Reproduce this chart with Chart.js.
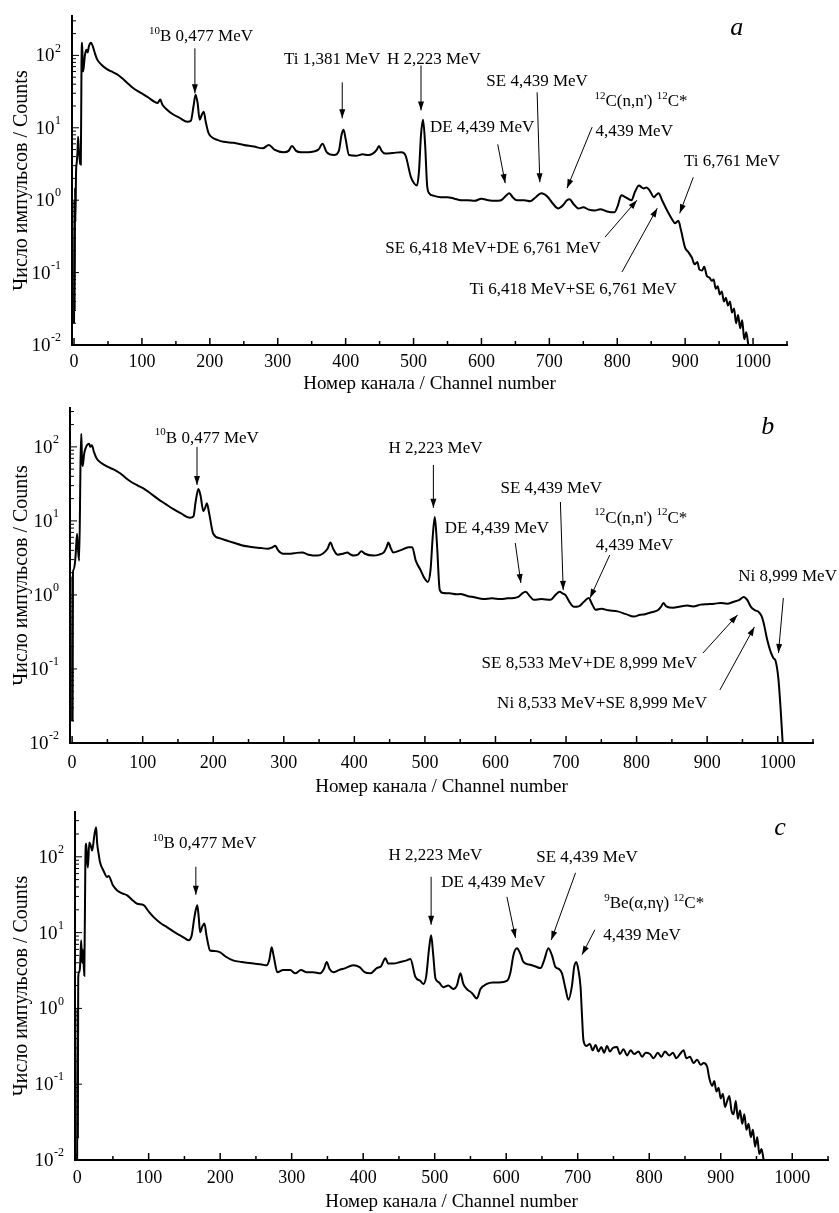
<!DOCTYPE html>
<html lang="ru">
<head>
<meta charset="UTF-8">
<title>Gamma spectra a, b, c</title>
<script src="https://cdn.jsdelivr.net/npm/chart.js"></script>
<style>
  body { margin: 0; background: #fff; }
  .panel { position: absolute; left: 0; width: 839px; }
</style>
</head>
<body>
<div class="panel" style="top:0"><canvas id="chartA" width="839" height="395"></canvas></div>
<div class="panel" style="top:395px"><canvas id="chartB" width="839" height="405"></canvas></div>
<div class="panel" style="top:800px"><canvas id="chartC" width="839" height="413"></canvas></div>

<script>
// tick values
const xTicks = [0, 100, 200, 300, 400, 500, 600, 700, 800, 900, 1000];
const yTicks = [0.01, 0.1, 1, 10, 100];

// spectrum a
const chA = [0,0.5,1,1.5,2,3,4,5,6,7, 8,9,10,11,12,13,14,16,18,20, 22,25,28,31,34,40,49,55,63,70,
  78,86,94,102,110,118,123,127,130,137, 145,155,167,172,176,179,182,185,188,191, 194,198,204,211,220,235,250,265,278,287,
  295,309,316,321,327,334,345,353,360,366, 372,383,390,394,397,400,405,415,425,433, 440,446,449,453,458,470,482,488,496,501,
  505,508,511,514,517,520,523,530,540,550, 560,570,580,590,600,610,620,629,636,641, 646,652,663,672,680,688,693,698,705,713,
  720,726,730,735,743,750,758,767,775,785, 796,801,806,812,821,826,832,836,839,843, 848,854,858,861,866,871,876,882,885,890,
  894,900,905,910,914,918,921,925,928,932, 936,939,942,945,948,951,954,957,960,963, 966,969,972,975,978,981,984,987,990,993];
const cntA = [0.02,1.0,0.03,1.5,0.5,2.5,3.3,4.5,7.5,5, 4,3.2,3.1,80,150,60,65,100,120,110, 135,150,130,105,88,75,64,60,55,49,
  42,36,32,29,26,23,22,24.5,21,17.8, 15.5,13.8,12.1,12.5,20,28.7,22,12.9,15,16.7, 12,8.5,7.3,6.8,6.4,6.2,5.8,5.5,5.2,5.8,
  5.0,4.6,4.8,5.6,4.8,4.6,4.6,4.7,5.0,6.0, 4.6,4.2,4.8,8,9.4,7,4.2,4.1,4.3,4.2, 4.4,5.0,5.6,4.8,4.4,4.5,4.6,4.2,2.1,1.7,
  1.6,2.5,8,12.9,6,1.6,1.25,1.15,1.1,1.1, 1.05,1.0,1.0,0.98,1.05,1.0,0.98,1.0,1.15,1.25, 1.1,1.0,1.0,0.97,1.1,1.25,1.2,1.1,0.9,0.77,
  0.85,1.0,1.03,0.9,0.77,0.8,0.74,0.72,0.75,0.7, 0.68,0.85,1.17,1.1,1.0,1.3,1.6,1.5,1.45,1.5, 1.35,1.1,1.2,1.25,1.0,0.8,0.65,0.52,0.48,0.52,
  0.38,0.22,0.19,0.16,0.13,0.14,0.11,0.107,0.12,0.09, 0.085,0.077,0.08,0.06,0.065,0.05,0.055,0.04,0.045,0.035, 0.04,0.028,0.032,0.02,0.026,0.017,0.022,0.012,0.015,0.01];

// spectrum b
const chB = [0,0.3,0.7,1.2,2,4,5,7,8.5,10, 12,13,14,15,17,19,21,24,26,28, 31,35,42,50,58,68,76,85,93,101,
  110,121,132,143,155,167,172,175,179,182, 186,189,191,194,200,210,220,228,240,250, 257,268,277,284,288,292,299,310,318,326,
  335,348,355,362,366,370,376,384,390,395, 399,405,410,415,427,435,442,446,448,452, 455,465,477,482,487,494,499,504,508,511,
  514,517,521,526,535,545,550,560,570,583, 595,607,617,626,633,638,643,648,654,665, 678,685,691,695,699,705,711,718,725,732,
  737,742,750,760,773,785,796,805,812,820, 830,835,838,842,852,862,872,880,891,900, 910,919,928,938,945,952,957,962,968,973,
  977,980,985,990,994,997,1001,1004,1007];
const cntB = [0.02,1.8,0.02,2.0,2.2,2.7,3.5,6.7,4,2.9, 70,150,69,55,80,95,105,110,100,105, 85,69,60,54,50,44,38,33,30,27.5,
  24,20,17,14.5,12.5,11,11.5,18,27,22, 13.5,15.5,17.3,13,6.7,5.8,5.4,5.1,4.7,4.5, 4.4,4.3,4.2,4.4,4.6,4.0,3.6,3.6,3.7,3.75,
  3.5,3.4,3.6,4.2,5.1,4.2,3.5,3.6,3.75,3.5, 3.4,3.5,3.9,3.6,3.4,3.5,3.8,4.5,5.1,4.2, 3.75,4.0,4.4,4.4,2.9,2.15,1.7,1.5,2.2,6,
  11.3,5,1.17,1.06,1.05,1.02,1.03,0.97,0.93,0.88, 0.9,0.88,0.9,0.91,0.95,1.05,1.1,0.98,0.86,0.88, 0.86,1.0,1.1,1.05,1.0,0.8,0.69,0.7,0.8,0.91,
  0.75,0.63,0.65,0.62,0.6,0.55,0.51,0.54,0.55,0.58, 0.62,0.7,0.78,0.7,0.67,0.7,0.72,0.7,0.74,0.75, 0.76,0.78,0.76,0.81,0.85,0.94,0.85,0.69,0.62,0.59,
  0.52,0.42,0.25,0.17,0.14,0.128,0.073,0.03,0.01];

// spectrum c
const chC = [0,0.5,1,1.5,2.5,4,5.6,7,8,10, 11.5,12.6,14,15,17,19,21,24,26.5,28, 30,32,37,42,44,50,56,63,70,77,
  84,93,100,107,116,126,135,144,150,156, 160,164,168,170,172,175,178,181,186,192, 200,208,218,230,247,258,265,269,272,275,
  280,288,298,305,313,321,330,340,345,349, 353,358,366,375,386,395,402,410,419,425, 431,435,442,452,461,466,473,480,484,488,
  492,495,498,501,506,512,519,526,531,536, 540,545,552,559,564,573,581,590,601,606, 610,615,620,624,632,640,648,653,659,664,
  669,674,678,683,687,692,695,698,701,704, 706,708,712,717,721,725,729,733,737,741, 745,749,755,759,764,769,774,779,785,790,
  795,801,806,812,817,822,828,833,838,843, 848,852,857,862,867,872,876,881,884,888, 891,894,897,900,903,906,909,912,915,918,
  921,924,927,930,933,936,939,942,945,948, 951,954,957,960];
const cntC = [0.01,1,0.02,2.5,3.0,3.5,7.9,4,6,2.7, 90,150,90,72,155,140,121,190,245,150, 110,85,65,54,56,42,36,33,31,27,
  24,23,19,16,13.5,11.7,10.3,9.2,8.5,7.9, 9,16,23,16,10.1,12,13.2,9,5.8,5.7, 5.5,4.8,4.3,4.1,3.9,3.8,3.7,4.5,6.4,4.8,
  3.0,3.2,3.2,2.9,3.2,3.0,3.0,2.9,3.3,4.1, 3.3,3.0,3.2,3.4,3.7,3.5,3.0,2.9,3.4,3.6, 4.6,3.9,3.9,4.1,4.3,4.5,2.6,2.3,2.1,2.6,
  6,9.2,5,2.5,2.2,1.9,2.0,1.8,2.0,2.9, 2.1,1.8,1.6,1.35,1.8,2.1,2.2,2.2,2.3,3, 5,6.2,5.2,4.1,3.8,3.6,3.4,4.3,6.2,5,
  3.5,3.3,2.9,1.8,1.3,2.0,3.5,4.1,3.2,1.9, 0.8,0.38,0.32,0.34,0.28,0.33,0.27,0.31,0.26,0.32, 0.27,0.3,0.31,0.25,0.29,0.24,0.28,0.25,0.27,0.23,
  0.26,0.25,0.22,0.26,0.23,0.27,0.24,0.26,0.22,0.25, 0.28,0.22,0.23,0.19,0.21,0.18,0.19,0.17,0.12,0.095, 0.11,0.08,0.09,0.065,0.075,0.05,0.06,0.07,0.045,0.04,
  0.06,0.035,0.045,0.03,0.04,0.025,0.03,0.02,0.025,0.015, 0.02,0.012,0.014,0.01];

// labels: text segments [text, isSuperscript], anchored in data units (channel, counts)
const notesA = [
  { seg: [['10', 1], ['B 0,477 MeV', 0]], x: 187, y: 190 },
  { seg: [['Ti 1,381 MeV', 0]], x: 380, y: 91 },
  { seg: [['H 2,223 MeV', 0]], x: 530, y: 91 },
  { seg: [['DE 4,439 MeV', 0]], x: 601, y: 10.5 },
  { seg: [['SE 4,439 MeV', 0]], x: 682, y: 45 },
  { seg: [['12', 1], ["C(n,n') ", 0], ['12', 1], ['C*', 0]], x: 835, y: 23.9 },
  { seg: [['4,439 MeV', 0]], x: 825, y: 9.2 },
  { seg: [['Ti 6,761 MeV', 0]], x: 969, y: 3.56 },
  { seg: [['SE 6,418 MeV+DE 6,761 MeV', 0]], x: 617, y: 0.225 },
  { seg: [['Ti 6,418 MeV+SE 6,761 MeV', 0]], x: 735, y: 0.061 }
];
const arrowsA = [[178,125,178,29.9],[395,42.4,395,13.5],[511,72.8,511,17.4],[624,5.9,635,1.72],[682,30.9,686,1.77],
  [763,10.2,726,1.46],[912,2.07,892,0.66],[782,0.309,829,1.0],[807,0.102,859,0.776]];

const notesB = [
  { seg: [['10', 1], ['B 0,477 MeV', 0]], x: 191, y: 136 },
  { seg: [['H 2,223 MeV', 0]], x: 515, y: 97 },
  { seg: [['DE 4,439 MeV', 0]], x: 602, y: 8.3 },
  { seg: [['SE 4,439 MeV', 0]], x: 679, y: 28.8 },
  { seg: [['12', 1], ["C(n,n') ", 0], ['12', 1], ['C*', 0]], x: 806, y: 11.3 },
  { seg: [['4,439 MeV', 0]], x: 797, y: 4.89 },
  { seg: [['Ni 8,999 MeV', 0]], x: 1014, y: 1.86 },
  { seg: [['SE 8,533 MeV+DE 8,999 MeV', 0]], x: 733, y: 0.124 },
  { seg: [['Ni 8,533 MeV+SE 8,999 MeV', 0]], x: 751, y: 0.0358 }
];
const arrowsB = [[177,100,177,30.6],[512,57,512,15],[628,5.04,636,1.45],[692,18,696,1.17],[762,3.47,734,0.91],
  [1008,0.91,1001,0.164],[894,0.164,943,0.537],[918,0.052,967,0.37]];

const notesC = [
  { seg: [['10', 1], ['B 0,477 MeV', 0]], x: 178, y: 153 },
  { seg: [['H 2,223 MeV', 0]], x: 501, y: 109 },
  { seg: [['DE 4,439 MeV', 0]], x: 582, y: 46.8 },
  { seg: [['SE 4,439 MeV', 0]], x: 713, y: 100 },
  { seg: [['9', 1], ['Be(α,nγ) ', 0], ['12', 1], ['C*', 0]], x: 807, y: 24.7 },
  { seg: [['4,439 MeV', 0]], x: 790, y: 9.6 }
];
const arrowsC = [[166,73.8,166,31.5],[495,54.5,495,12.7],[601,29.6,613,8.5],[697,61.5,663,8.0],[724,10.9,706,5.1]];

const FONT = '"Liberation Serif", "Times New Roman", serif';

function drawRich(ctx, segs, cx, cy, size) {
  const supSize = Math.round(size * 0.65);
  let w = 0;
  segs.forEach(([t, sup]) => {
    ctx.font = (sup ? supSize : size) + 'px ' + FONT;
    w += ctx.measureText(t).width;
  });
  let x = cx - w / 2;
  const base = cy + size * 0.33;
  ctx.textAlign = 'left';
  ctx.textBaseline = 'alphabetic';
  segs.forEach(([t, sup]) => {
    ctx.font = (sup ? supSize : size) + 'px ' + FONT;
    ctx.fillText(t, x, sup ? base - size * 0.42 : base);
    x += ctx.measureText(t).width;
  });
}

function arrow(ctx, x1, y1, x2, y2) {
  ctx.beginPath();
  ctx.moveTo(x1, y1);
  ctx.lineTo(x2, y2);
  ctx.stroke();
  const a = Math.atan2(y2 - y1, x2 - x1), L = 9, W = 3;
  ctx.beginPath();
  ctx.moveTo(x2, y2);
  ctx.lineTo(x2 - L * Math.cos(a) + W * Math.sin(a), y2 - L * Math.sin(a) - W * Math.cos(a));
  ctx.lineTo(x2 - L * Math.cos(a) - W * Math.sin(a), y2 - L * Math.sin(a) + W * Math.cos(a));
  ctx.closePath();
  ctx.fill();
}

// inward ticks, 10^n labels, peak labels and arrows
function makeDecor(notes, arrows, letter) {
  return {
    id: 'decor',
    afterDraw(chart) {
      const { ctx, chartArea: ca, scales: { x, y } } = chart;
      ctx.save();
      ctx.strokeStyle = '#000';
      ctx.fillStyle = '#000';
      ctx.lineWidth = 1.5;
      for (let v = 0; v <= 1050; v += 50) {
        const px = x.getPixelForValue(v);
        const len = v % 100 === 0 ? 7 : 4;
        ctx.beginPath(); ctx.moveTo(px, ca.bottom); ctx.lineTo(px, ca.bottom - len); ctx.stroke();
      }
      ctx.lineWidth = 1;
      for (let d = -2; d <= 2; d++) {
        for (let m = 1; m <= 9; m++) {
          const v = m * Math.pow(10, d);
          if (v > y.max) break;
          const py = y.getPixelForValue(v);
          const len = m === 1 ? 7 : 4;
          ctx.beginPath(); ctx.moveTo(ca.left, py); ctx.lineTo(ca.left + len, py); ctx.stroke();
        }
      }
      yTicks.forEach(v => {
        const py = y.getPixelForValue(v);
        const e = String(Math.round(Math.log10(v)));
        ctx.font = '12px ' + FONT;
        const we = ctx.measureText(e).width;
        ctx.textAlign = 'left';
        ctx.textBaseline = 'middle';
        const right = ca.left - 11;
        ctx.fillText(e, right - we, py - 7);
        ctx.font = '19px ' + FONT;
        ctx.textAlign = 'right';
        ctx.fillText('10', right - we - 0.5, py + 1);
      });
      notes.forEach(n => drawRich(ctx, n.seg, x.getPixelForValue(n.x), y.getPixelForValue(n.y), 17));
      arrows.forEach(a => arrow(ctx, x.getPixelForValue(a[0]), y.getPixelForValue(a[1]),
                                  x.getPixelForValue(a[2]), y.getPixelForValue(a[3])));
      ctx.font = 'italic 26px ' + FONT;
      ctx.textAlign = 'center';
      ctx.textBaseline = 'middle';
      ctx.fillText(letter.t, x.getPixelForValue(letter.x), y.getPixelForValue(letter.y));
      ctx.restore();
    }
  };
}

function makeChart(id, ch, cnt, notes, arrows, letter, cfg) {
  return new Chart(document.getElementById(id), {
    type: 'line',
    data: {
      datasets: [{
        data: ch.map((c, i) => ({ x: c, y: cnt[i] })),
        borderColor: '#000',
        borderWidth: 2,
        pointRadius: 0,
        cubicInterpolationMode: 'monotone',
        fill: false
      }]
    },
    options: {
      responsive: false,
      animation: false,
      layout: { padding: { top: cfg.top, right: cfg.right, left: 0, bottom: 0 } },
      plugins: { legend: { display: false }, tooltip: { enabled: false } },
      scales: {
        x: {
          type: 'linear',
          min: -3,
          max: 1050,
          afterBuildTicks: s => { s.ticks = xTicks.map(v => ({ value: v })); },
          afterFit: s => { s.height = cfg.xh; },
          grid: { display: false, drawTicks: false },
          border: { display: true, color: '#000', width: 2 },
          ticks: {
            color: '#000',
            font: { family: FONT, size: 18 },
            padding: cfg.tickPad,
            maxRotation: 0,
            autoSkip: false,
            callback: v => String(v)
          },
          title: {
            display: true,
            text: 'Номер канала / Channel number',
            color: '#000',
            font: { family: FONT, size: 19 },
            padding: { top: 0, bottom: cfg.titlePad }
          }
        },
        y: {
          type: 'logarithmic',
          min: 0.01,
          max: cfg.ymax,
          afterBuildTicks: s => { s.ticks = yTicks.map(v => ({ value: v })); },
          afterFit: s => { s.width = cfg.left; },
          grid: { display: false, drawTicks: false },
          border: { display: true, color: '#000', width: 2 },
          ticks: { display: false },
          title: {
            display: true,
            text: 'Число импульсов / Counts',
            color: '#000',
            font: { family: FONT, size: 20 },
            padding: { top: 10, bottom: 0 }
          }
        }
      }
    },
    plugins: [makeDecor(notes, arrows, letter)]
  });
}

makeChart('chartA', chA, cntA, notesA, arrowsA, { t: 'a', x: 976, y: 236 },
  { top: 16, right: 52, left: 72, xh: 50, ymax: 350, tickPad: 6, titlePad: 0 });
makeChart('chartB', chB, cntB, notesB, arrowsB, { t: 'b', x: 986, y: 186 },
  { top: 13, right: 26, left: 70, xh: 57, ymax: 335, tickPad: 9, titlePad: 2 });
makeChart('chartC', chC, cntC, notesC, arrowsC, { t: 'c', x: 983, y: 241 },
  { top: 12, right: 11, left: 75, xh: 53, ymax: 390, tickPad: 7, titlePad: 0 });
</script>
</body>
</html>
